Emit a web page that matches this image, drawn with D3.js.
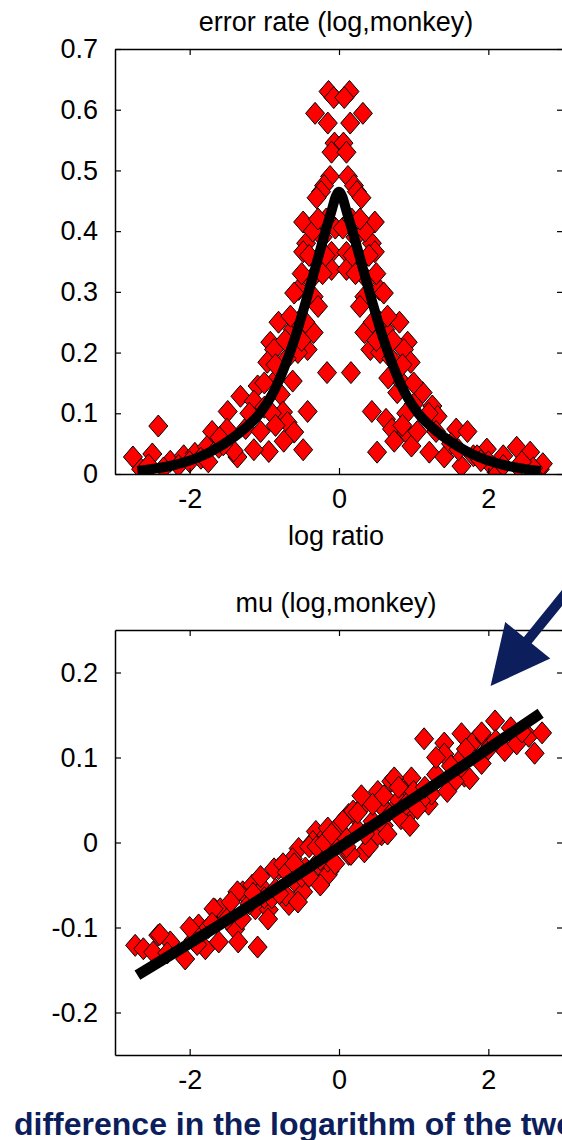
<!DOCTYPE html>
<html>
<head>
<meta charset="utf-8">
<script src="https://cdn.jsdelivr.net/npm/d3@7"></script>
<style>
  html, body { margin: 0; padding: 0; background: #fff; overflow: hidden; }
  svg { display: block; }
  text { font-family: "Liberation Sans", Arial, sans-serif; }
</style>
</head>
<body>
<div id="chart"></div>
<script>
/* error rate / mu vs log ratio (monkey) */

// Top panel: error rate scatter
const errX = [
  -0.14, 0.14, -0.07, 0.07, -0.32, 0.32, -0.15, 0.15, -0.06, 0.06, -0.1, 0.1,
  -0.12, 0.12, -0.2, 0.2, -0.24, 0.24, -0.3, 0.3, -0.05, 0.05, -0.48, 0.48,
  -0.44, 0.44, -0.48, 0.48, -0.1, 0.1, -0.1, 0.1, -0.54, 0.54, -0.6, 0.6,
  -0.34, 0.34, -0.28, 0.28, -0.81, 0.81, -0.62, 0.62, -0.34, 0.34, -0.92, 0.92,
  -0.87, 0.87, -0.42, 0.42, -0.55, 0.55, -0.96, 0.96, -0.16, 0.16, -0.62, 0.66,
  -0.78, 0.78, -1.09, 1.12, -1.32, 1.25, -1.14, 1.32, -1.49, 1.57, -0.42, 0.44,
  -0.75, 0.63, -0.69, 0.71, -0.6, 0.9, -0.74, 0.74, -0.48, 0.51, -0.94, 0.97,
  -1.14, 1.21, -1.36, 1.41, -1.7, 1.72, -1.5, -2.42, -2.76, -2.5, -2.26, -2.08,
  -1.93, -1.77, -1.61, -1.41, 1.98, 2.11, 2.38, 2.56, 2.69, 2.73, 1.64, 2.2, 1.8,
  -2.65, -2.35, -2.15, -2.0, -1.85, -1.55, -1.25, -1.0, -0.85, -0.7, -0.55, -0.38,
  -0.3, -0.22, -0.17, 2.6, 2.4, 2.2, 2.0, 1.85, 1.5, 1.3, 1.0, 0.85, 0.7, 0.55,
  0.38, 0.3, 0.22, 0.17,
  -0.5, 0.5, -0.4, 0.4, -0.35, 0.35, -0.28, 0.28, -0.22, 0.22, -0.18, 0.18,
  -0.65, 0.65, -0.72, 0.72, -0.45, 0.45, -0.5, 0.5, -0.85, 0.85, -1.0, 1.0,
  -0.9, 0.9, -1.2, 1.2, -1.6, 1.6, -1.05, 1.05, -0.85, 0.85, -2.55, 2.45, -1.75, 1.9
];
const errY = [
  0.63, 0.63, 0.62, 0.62, 0.594, 0.594, 0.578, 0.578, 0.545, 0.545, 0.53, 0.53,
  0.49, 0.49, 0.475, 0.475, 0.465, 0.465, 0.455, 0.455, 0.405, 0.405, 0.415, 0.415,
  0.38, 0.38, 0.366, 0.366, 0.365, 0.365, 0.337, 0.337, 0.304, 0.304, 0.298, 0.298,
  0.292, 0.292, 0.276, 0.276, 0.25, 0.25, 0.238, 0.238, 0.233, 0.233, 0.217, 0.217,
  0.205, 0.205, 0.205, 0.205, 0.2, 0.2, 0.184, 0.184, 0.167, 0.167, 0.153, 0.158,
  0.131, 0.134, 0.145, 0.134, 0.128, 0.112, 0.12, 0.095, 0.103, 0.074, 0.103, 0.103,
  0.102, 0.09, 0.085, 0.074, 0.069, 0.069, 0.054, 0.054, 0.04, 0.036, 0.037, 0.046,
  0.04, 0.036, 0.028, 0.028, 0.07, 0.07, 0.074, 0.079, 0.028, 0.033, 0.021, 0.03,
  0.034, 0.045, 0.044, 0.038, 0.041, 0.003, 0.044, 0.036, 0.008, 0.017, 0.013, 0.03, 0.03,
  0.008, 0.01, 0.014, 0.02, 0.026, 0.048, 0.075, 0.11, 0.155, 0.19, 0.25, 0.32,
  0.35, 0.39, 0.42, 0.01, 0.012, 0.014, 0.02, 0.03, 0.05, 0.07, 0.115, 0.15, 0.19, 0.25,
  0.32, 0.35, 0.39, 0.42,
  0.33, 0.33, 0.36, 0.36, 0.4, 0.4, 0.42, 0.42, 0.33, 0.33, 0.36, 0.36,
  0.26, 0.26, 0.22, 0.22, 0.25, 0.25, 0.22, 0.22, 0.18, 0.18, 0.15, 0.15,
  0.1, 0.1, 0.1, 0.1, 0.06, 0.04, 0.07, 0.07, 0.08, 0.08, 0.015, 0.02, 0.02, 0.022
];

// Top panel: fitted curve
const errFitX = [-2.7, -2.2, -1.87, -1.6, -1.33, -1.06, -0.9, -0.75, -0.59, -0.43, -0.26, -0.12, 0,
                 0.12, 0.26, 0.43, 0.59, 0.75, 0.9, 1.06, 1.33, 1.6, 1.87, 2.2, 2.7];
const errFitY = [0.005, 0.015, 0.028, 0.045, 0.068, 0.1, 0.13, 0.17, 0.224, 0.29, 0.365, 0.425, 0.465,
                 0.425, 0.365, 0.29, 0.224, 0.17, 0.13, 0.1, 0.068, 0.045, 0.028, 0.015, 0.005];

// Bottom panel: mu scatter
const muX = [
  -2.73, -2.62, -2.49, -2.42, -2.26, -2.06, -1.88, -1.79, -1.66, -1.59, -1.61, -1.39,
  -1.35, -1.09, -1.29, -1.16, -1.02, -1.12, -0.94, -0.81, -0.67, -0.71, -0.48, -0.31,
  -0.35, -0.17, -0.13, 0.13, 0.13, -0.54, -0.62, -0.27, -2.4, -1.68, -1.36, -0.87,
  -0.15, 0.2, 0.34, 0.57, 0.74, 0.93, 1.2, 1.14, 1.41, 1.64, 1.82, 1.95, 2.09, 2.22,
  2.38, 2.54, 2.72, 2.62, 1.41, 1.91, 1.68, 1.75, 1.55, 1.24, 1.1, 0.97, 0.7, 0.52,
  0.34, 0.19, 0.16, 0.52, 0.83, 0.87, 0.74, -0.15, -0.15, 1.91,
  -2.3, -1.95, -1.75, -1.5, -1.2, -1.0, -0.85, -0.6, -0.45, -0.25, -0.05, 0.05, 0.25,
  0.45, 0.65, 0.8, 1.0, 1.3, 1.6, 2.0, 2.3, -0.75, -0.4, 0.0, 0.4, 0.6, -1.05, -0.95,
  -0.55, -0.25, 0.3, 0.55,
  -2.0, -1.9, -1.7, -1.45, -1.3, -1.15, -0.9, -0.8, -0.7, -0.6, -0.5, -0.4, -0.3, -0.2,
  -0.1, -0.05, 0.05, 0.1, 0.25, 0.35, 0.45, 0.6, 0.65, 0.8, 0.9, 1.05, 1.15, 1.3, 1.5,
  1.7, 2.1, 2.45, 1.45, 0.95
];
const muY = [
  -0.121, -0.125, -0.129, -0.109, -0.117, -0.137, -0.097, -0.125, -0.079, -0.078, -0.117, -0.102,
  -0.117, -0.123, -0.058, -0.05, -0.054, -0.078, -0.079, -0.031, -0.073, -0.062, -0.058, 0.013,
  0.001, 0.009, -0.034, 0.033, -0.014, -0.007, -0.019, -0.026, -0.108, -0.078, -0.058, -0.031,
  -0.038, 0.033, -0.011, 0.009, 0.04, 0.033, 0.045, 0.122, 0.117, 0.128, 0.12, 0.123, 0.143, 0.108,
  0.116, 0.125, 0.129, 0.105, 0.104, 0.093, 0.078, 0.075, 0.072, 0.057, 0.049, 0.076, 0.072, 0.06,
  0.045, 0.037, -0.014, 0.009, 0.028, 0.06, 0.076, 0.017, -0.022, 0.129,
  -0.13, -0.115, -0.1, -0.09, -0.072, -0.065, -0.055, -0.045, -0.03, -0.02, -0.005, 0.01, 0.015,
  0.025, 0.035, 0.05, 0.06, 0.08, 0.095, 0.11, 0.135, -0.025, -0.005, 0.02, -0.005, 0.02, -0.04, -0.09,
  -0.07, -0.05, 0.055, 0.045,
  -0.1, -0.12, -0.095, -0.07, -0.09, -0.06, -0.065, -0.06, -0.035, -0.025, -0.04, -0.04, -0.005, 0.0,
  0.01, -0.025, 0.025, -0.005, 0.035, 0.01, 0.045, 0.055, 0.01, 0.065, 0.045, 0.04, 0.065, 0.1, 0.09,
  0.11, 0.12, 0.13, 0.06, 0.02
];

// Bottom panel: fitted line
const muFitX = [-2.7, -1.35, 0, 1.35, 2.7];
const muFitY = [-0.156, -0.083, -0.006, 0.072, 0.152];

// Ticks
const xTicks = [-2, 0, 2];
const errTicks = [0, 0.1, 0.2, 0.3, 0.4, 0.5, 0.6, 0.7];
const muTicks = [-0.2, -0.1, 0, 0.1, 0.2];

// Annotation arrow (bottom panel units) and caption
const arrowFrom = [3.72, 0.367];
const arrowTo = [2.03, 0.184];
const caption = 'difference in the logarithm of the two intensities';

const W = 562, H = 1140;
const NAVY = '#0c1e5b';
const FONT = 27;

const svg = d3.select('#chart')
  .append('svg')
  .attr('width', W)
  .attr('height', H);

function diamondPath() {
  return 'M0,-11L9.5,0L0,11L-9.5,0Z';
}

function drawPanel(opts) {
  const x = d3.scaleLinear().domain([-3, 3]).range([115, 563]);
  const y = d3.scaleLinear().domain(opts.yDomain).range([opts.bottom, opts.top]);
  const g = svg.append('g');

  const clipId = 'clip-' + opts.id;
  g.append('clipPath').attr('id', clipId)
    .append('rect')
    .attr('x', 115).attr('y', opts.top)
    .attr('width', 563 - 115).attr('height', opts.bottom - opts.top);

  const plot = g.append('g').attr('clip-path', `url(#${clipId})`);

  // Scatter diamonds
  plot.selectAll('path.pt')
    .data(opts.xs.map((v, i) => [v, opts.ys[i]]))
    .join('path')
    .attr('class', 'pt')
    .attr('d', diamondPath())
    .attr('transform', d => `translate(${x(d[0])},${y(d[1])})`)
    .attr('fill', '#ff0000')
    .attr('stroke', '#000')
    .attr('stroke-width', 1);

  // Fit line on top
  const line = d3.line()
    .x(d => x(d[0]))
    .y(d => y(d[1]))
    .curve(d3.curveMonotoneX);
  plot.append('path')
    .datum(opts.fitX.map((v, i) => [v, opts.fitY[i]]))
    .attr('d', line)
    .attr('fill', 'none')
    .attr('stroke', '#000')
    .attr('stroke-width', opts.lineWidth);

  // Axes, ticks pointing inward (matlab style)
  const fmt = d => String(d);
  const styleAxis = sel => {
    sel.selectAll('path.domain').attr('stroke', '#000').attr('stroke-width', 1.5);
    sel.selectAll('.tick line').attr('stroke', '#000').attr('stroke-width', 1.2);
    sel.selectAll('.tick text')
      .attr('fill', '#000')
      .style('font-size', FONT + 'px')
      .style('font-family', '"Liberation Sans", Arial, sans-serif');
  };

  g.append('g')
    .attr('transform', `translate(0,${opts.bottom})`)
    .call(d3.axisBottom(x).tickValues(xTicks).tickFormat(fmt).tickSize(-6).tickSizeOuter(0).tickPadding(15))
    .call(styleAxis);
  g.append('g')
    .attr('transform', `translate(0,${opts.top})`)
    .call(d3.axisTop(x).tickValues(xTicks).tickFormat('').tickSize(-6).tickSizeOuter(0))
    .call(styleAxis);
  g.append('g')
    .attr('transform', 'translate(115,0)')
    .call(d3.axisLeft(y).tickValues(opts.yTicks).tickFormat(fmt).tickSize(-6).tickSizeOuter(0).tickPadding(17))
    .call(styleAxis);
  g.append('g')
    .attr('transform', 'translate(563,0)')
    .call(d3.axisRight(y).tickValues(opts.yTicks).tickFormat('').tickSize(-6).tickSizeOuter(0))
    .call(styleAxis);

  // Title
  g.append('text')
    .attr('x', 336)
    .attr('y', opts.titleY)
    .attr('text-anchor', 'middle')
    .style('font-size', FONT + 'px')
    .text(opts.title);

  if (opts.xLabel) {
    g.append('text')
      .attr('x', 336)
      .attr('y', opts.xLabelY)
      .attr('text-anchor', 'middle')
      .style('font-size', FONT + 'px')
      .text(opts.xLabel);
  }

  return { x, y };
}

drawPanel({
  id: 'err', top: 49, bottom: 474, yDomain: [0, 0.7], yTicks: errTicks,
  xs: errX, ys: errY, fitX: errFitX, fitY: errFitY, lineWidth: 10,
  title: 'error rate (log,monkey)', titleY: 31,
  xLabel: 'log ratio', xLabelY: 545
});

const mu = drawPanel({
  id: 'mu', top: 630, bottom: 1055, yDomain: [-0.25, 0.25], yTicks: muTicks,
  xs: muX, ys: muY, fitX: muFitX, fitY: muFitY, lineWidth: 11,
  title: 'mu (log,monkey)', titleY: 612
});

// Arrow pointing at the upper end of the mu fit
function drawArrow(scales) {
  const sx = scales.x(arrowFrom[0]), sy = scales.y(arrowFrom[1]);
  const tx = scales.x(arrowTo[0]), ty = scales.y(arrowTo[1]);
  const len = Math.hypot(sx - tx, sy - ty);
  const ux = (sx - tx) / len, uy = (sy - ty) / len;
  const headLen = 59, headHalf = 29;
  const bx = tx + ux * headLen, by = ty + uy * headLen;

  svg.append('line')
    .attr('x1', sx).attr('y1', sy)
    .attr('x2', tx + ux * (headLen - 5)).attr('y2', ty + uy * (headLen - 5))
    .attr('stroke', NAVY)
    .attr('stroke-width', 10);

  svg.append('path')
    .attr('d', `M${tx},${ty}L${bx - uy * headHalf},${by + ux * headHalf}L${bx + uy * headHalf},${by - ux * headHalf}Z`)
    .attr('fill', NAVY);
}
drawArrow(mu);

// Caption at the bottom, cut by the right edge as in the source slide
svg.append('text')
  .attr('x', 14)
  .attr('y', 1135)
  .attr('fill', NAVY)
  .style('font-size', '32px')
  .style('font-weight', 'bold')
  .style('font-family', '"Liberation Sans", Arial, sans-serif')
  .text(caption);
</script>
</body>
</html>
